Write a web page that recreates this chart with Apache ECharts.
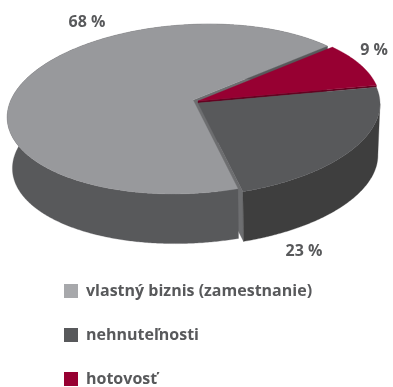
<!DOCTYPE html>
<html>
<head>
<meta charset="utf-8">
<style>html,body{margin:0;padding:0;background:#fff}#c{width:393px;height:387px}</style>
<script src="https://cdn.jsdelivr.net/npm/echarts@6/dist/echarts.min.js"></script>
</head>
<body>
<div id="c"></div>
<script>
// Portfolio split, in percent, clockwise from the start angle
const categories = ['hotovosť', 'nehnuteľnosti', 'vlastný biznis (zamestnanie)'];
const shares = [9, 23, 68];
const legendOrder = ['vlastný biznis (zamestnanie)', 'nehnuteľnosti', 'hotovosť'];
const legendColors = ['#a7a8ab', '#58595b', '#970032'];

const topColors = ['#970032', '#58595b', '#98999c'];
const rimColors = ['#970032', '#3e3e3e', '#58595b'];
const cutColors = ['#640020', '#6d6e70', '#6d6e70'];
const explode = [[0, -2], [0, 0], [-5, -3]];
const labelSpots = [[374, 50], [304, 251], [87, 22]];

// Tilted disc: perspective narrows the far half, shear leans the ellipse
const startAngle = -43.5;
const disc = { cx: 198, cy: 103, rx: 182, ry: 84, persp: 0.106, shear: 0.21 };
const base = { dx: 1.5, dy: 51.5, scale: 0.98 };

function project(deg, lower, off) {
  const s = lower ? base.scale : 1;
  const ox = off[0] + (lower ? base.dx : 0);
  const oy = off[1] + (lower ? base.dy : 0);
  let dx = 0, dy = 0;
  if (deg !== null) {
    const a = deg * Math.PI / 180;
    const u = Math.cos(a), v = Math.sin(a);
    const w = 1 / (1 - disc.persp * v);
    dx = disc.rx * s * u * w;
    dy = disc.ry * s * v * w;
  }
  return [disc.cx + dx - disc.shear * dy + ox, disc.cy + dy + oy];
}

function arc(a0, a1, lower, off) {
  const pts = [];
  const n = Math.max(2, Math.ceil(Math.abs(a1 - a0) * 2));
  for (let i = 0; i <= n; i++) pts.push(project(a0 + (a1 - a0) * i / n, lower, off));
  return pts;
}

// Wall outline that stays tangent to both rims on the right-hand silhouette
function wallOutline(a0, a1, off, fromSilhouette) {
  const trim = pts => {
    if (!fromSilhouette) return pts;
    let best = 0;
    pts.forEach((p, i) => { if (p[0] > pts[best][0]) best = i; });
    return pts.slice(best);
  };
  return trim(arc(a0, a1, false, off)).concat(trim(arc(a0, a1, true, off)).reverse());
}

const total = shares.reduce((a, b) => a + b, 0);

function sweep(idx, value) {
  const before = shares.slice(0, idx).reduce((a, b) => a + b, 0);
  const a0 = startAngle + before / total * 360;
  return [a0, a0 + value / total * 360];
}

function polygon(points, fill) {
  return {
    type: 'polygon', shape: { points }, silent: true,
    style: { fill, stroke: fill, lineWidth: 0.3 }
  };
}

function cutFace(idx, a) {
  const off = explode[idx];
  return polygon([
    project(null, false, off), project(a, false, off),
    project(a, true, off), project(null, true, off)
  ], cutColors[idx]);
}

// Each slice is its own series: z orders them back to front
function sliceRenderer(idx) {
  return function (params, api) {
    const value = api.value(0);
    const [a0, a1] = sweep(idx, value);
    const off = explode[idx];
    const children = [];
    if (idx === 2) children.push(cutFace(idx, a1));
    if (idx === 0) {
      // sliver of the red end face, down to the top of the next slice
      children.push(polygon([
        project(null, false, off), project(a1, false, off),
        project(a1, false, explode[1]), project(null, false, explode[1])
      ], cutColors[0]));
    }
    if (idx !== 0) children.push(polygon(wallOutline(a0, a1, off, idx === 1), rimColors[idx]));
    children.push(polygon([project(null, false, off)].concat(arc(a0, a1, false, off)), topColors[idx]));
    children.push({
      type: 'text', silent: true, x: labelSpots[idx][0], y: labelSpots[idx][1],
      style: {
        text: value + ' %', fill: '#58595b', align: 'center', verticalAlign: 'middle',
        font: '700 16px "Open Sans"'
      }
    });
    return { type: 'group', children };
  };
}

const zByIndex = [4, 6, 2];
const chart = echarts.init(document.getElementById('c'), null, { renderer: 'canvas' });
chart.setOption({
  animation: false,
  backgroundColor: '#ffffff',
  legend: {
    data: legendOrder.map((name, i) => ({ name, icon: 'rect', itemStyle: { color: legendColors[i] } })),
    orient: 'vertical', left: 64, top: 283, height: 110,
    itemWidth: 14, itemHeight: 14, itemGap: 28,
    selectedMode: false,
    textStyle: { color: '#58595b', fontFamily: 'Open Sans', fontWeight: 700, fontSize: 16, padding: [0, 0, 0, 3] },
    padding: 0
  },
  series: categories.map((name, i) => ({
    type: 'custom', name, coordinateSystem: 'none', z: zByIndex[i],
    itemStyle: { color: topColors[i] },
    renderItem: sliceRenderer(i),
    data: [[shares[i]]]
  })).concat([{
    // end face of the dark slice, seen through the gap beside the large slice
    type: 'custom', coordinateSystem: 'none', z: 1,
    renderItem: (params, api) => cutFace(1, sweep(1, api.value(0))[1]),
    data: [[shares[1]]]
  }])
});
</script>
</body>
</html>
